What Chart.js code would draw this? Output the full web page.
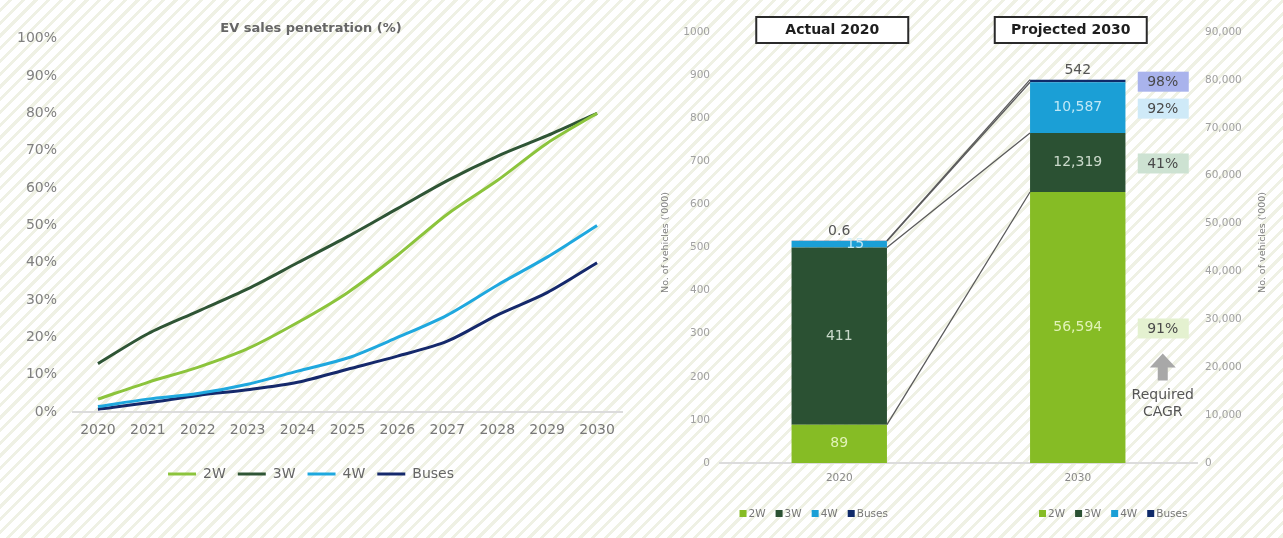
<!DOCTYPE html>
<html lang="en">
<head>
<meta charset="UTF-8">
<title>EV sales penetration</title>
<script src="https://cdn.jsdelivr.net/npm/chart.js"></script>
<style>
    html, body { margin: 0; padding: 0; }
    body {
        width: 1283px; height: 538px; overflow: hidden; position: relative;
        background: repeating-linear-gradient(135deg, #ffffff 0px, #ffffff 6px, #eff1e4 6px, #eff1e4 9px);
    }
    .painel { position: absolute; top: 0; height: 538px; }
    #esquerda { left: 0; width: 640px; }
    #direita { left: 640px; width: 643px; }
</style>
</head>
<body>
    <div class="painel" id="esquerda"><canvas id="ChartPenetracao" width="640" height="538"></canvas></div>
    <div class="painel" id="direita"><canvas id="ChartVeiculos" width="643" height="538"></canvas></div>

<script>
    // --- dados ---
    const anos = ['2020', '2021', '2022', '2023', '2024', '2025', '2026', '2027', '2028', '2029', '2030'];
    const pen2W = [3.5, 8, 12, 17, 24, 32, 42, 53, 62, 72, 80];
    const pen3W = [13, 21, 27, 33, 40, 47, 54.5, 62, 68.5, 74, 80];
    const pen4W = [1.5, 3.5, 5, 7.5, 11, 14.5, 20, 26, 34, 41.5, 50];
    const penBuses = [0.8, 2.5, 4.5, 6, 8, 11.5, 15, 19, 26, 32, 40];
    const ticksPercent = [0, 10, 20, 30, 40, 50, 60, 70, 80, 90, 100];

    const series = ['2W', '3W', '4W', 'Buses'];
    const anosBarras = ['2020', '2030'];
    const veiculos2020 = [89, 411, 15, 0.6];          // '000
    const veiculos2030 = [56594, 12319, 10587, 542];  // '000
    const cagr = ['91%', '41%', '92%', '98%'];
    const ticksEsq = [0, 100, 200, 300, 400, 500, 600, 700, 800, 900, 1000];
    const ticksDir = [0, 10000, 20000, 30000, 40000, 50000, 60000, 70000, 80000, 90000];
    const titulosBarras = ['Actual 2020', 'Projected 2030'];

    const fonte = '"DejaVu Sans", Verdana, sans-serif';
    Chart.defaults.font.family = fonte;

    const coresLinhas = ['#8cc43c', '#2f5535', '#1fa8de', '#15296b'];
    const coresBarras = ['#86bc25', '#2b5133', '#1b9fd6', '#0f2a69'];
    const coresTexto = ['rgba(235,248,200,0.9)', 'rgba(220,232,220,0.9)', 'rgba(210,240,250,0.9)', '#555'];
    const coresCagr = ['#e4f1d0', '#cde2d2', '#cfeaf8', '#a9b3ec'];

    // --- grafico de linhas ---
    new Chart(document.getElementById('ChartPenetracao'), {
        type: 'line',
        data: {
            labels: anos,
            datasets: [pen2W, pen3W, pen4W, penBuses].map((d, i) => ({
                label: series[i],
                data: d,
                borderColor: coresLinhas[i],
                backgroundColor: coresLinhas[i],
                borderWidth: 3,
                pointRadius: 0,
                pointStyle: 'line',
                tension: 0.3
            }))
        },
        options: {
            responsive: false,
            animation: false,
            layout: { padding: { left: 0, right: 18, top: 0, bottom: 47 } },
            plugins: {
                title: {
                    display: true,
                    text: 'EV sales penetration (%)',
                    color: '#666',
                    font: { size: 13, weight: 'bold' },
                    padding: { top: 21, bottom: 2 }
                },
                legend: {
                    position: 'bottom',
                    labels: { usePointStyle: true, pointStyle: 'line', pointStyleWidth: 28, color: '#666', font: { size: 14 }, padding: 12 }
                },
                tooltip: { enabled: false }
            },
            scales: {
                x: {
                    offset: true,
                    grid: { display: false, drawTicks: false },
                    border: { display: true, color: '#dcdcdc', width: 2 },
                    ticks: { color: '#777', font: { size: 14 }, padding: 10 },
                    afterFit: s => { s.height += 6; }
                },
                y: {
                    min: 0, max: 100,
                    afterBuildTicks: s => { s.ticks = ticksPercent.map(v => ({ value: v })); },
                    afterFit: s => { s.width = 73; },
                    grid: { display: false, drawTicks: false },
                    border: { display: false },
                    ticks: { color: '#808080', font: { size: 14 }, padding: 16, callback: v => v + '%' }
                }
            }
        }
    });

    // --- grafico de barras ---
    const anotacoes = {
        id: 'anotacoes',
        afterDatasetsDraw(chart) {
            const ctx = chart.ctx;
            const ca = chart.chartArea;
            const m20 = series.map((s, i) => chart.getDatasetMeta(i).data[0].getProps(['x', 'y', 'base', 'width'], true));
            const m30 = series.map((s, i) => chart.getDatasetMeta(i + 4).data[1].getProps(['x', 'y', 'base', 'width'], true));
            ctx.save();

            // linhas ligando as barras
            ctx.strokeStyle = '#5a5a5a';
            ctx.lineWidth = 1.3;
            series.forEach((s, i) => {
                ctx.beginPath();
                ctx.moveTo(m20[i].x + m20[i].width / 2, m20[i].y);
                ctx.lineTo(m30[i].x - m30[i].width / 2, m30[i].y);
                ctx.stroke();
            });

            // valores
            ctx.font = '14px ' + fonte;
            ctx.textAlign = 'center';
            ctx.textBaseline = 'middle';
            [[m20, veiculos2020], [m30, veiculos2030]].forEach(([m, vals]) => {
                m.forEach((e, i) => {
                    ctx.fillStyle = coresTexto[i];
                    const y = i === 3 ? e.y - 9 : (e.y + e.base) / 2;
                    const x = (vals === veiculos2020 && i === 2) ? e.x + 16 : e.x;
                    ctx.fillText(vals[i].toLocaleString('en-US'), x, y);
                });
            });

            // caixas de titulo
            ctx.font = 'bold 14px ' + fonte;
            [m20[0].x - 7, m30[0].x - 7].forEach((cx, k) => {
                ctx.fillStyle = '#fff';
                ctx.fillRect(cx - 76, 17, 152, 26);
                ctx.strokeStyle = '#2a2a2a';
                ctx.lineWidth = 2;
                ctx.strokeRect(cx - 76, 17, 152, 26);
                ctx.fillStyle = '#1e1e1e';
                ctx.fillText(titulosBarras[k], cx, 30.5);
            });

            // CAGR
            const cx = m30[0].x + 85;
            ctx.font = '14px ' + fonte;
            m30.forEach((e, i) => {
                const y = i === 3 ? e.y + 2 : (e.y + e.base) / 2 + 1;
                ctx.fillStyle = coresCagr[i];
                ctx.fillRect(cx - 25, y - 10, 51, 20);
                ctx.fillStyle = '#4a4a4a';
                ctx.fillText(cagr[i], cx, y + 1);
            });

            // seta
            const yb = (m30[0].y + m30[0].base) / 2 + 1;
            const topo = yb + 25;
            ctx.fillStyle = '#a8a8a8';
            ctx.beginPath();
            ctx.moveTo(cx, topo);
            ctx.lineTo(cx + 13, topo + 14);
            ctx.lineTo(cx + 5, topo + 14);
            ctx.lineTo(cx + 5, topo + 27);
            ctx.lineTo(cx - 5, topo + 27);
            ctx.lineTo(cx - 5, topo + 14);
            ctx.lineTo(cx - 13, topo + 14);
            ctx.closePath();
            ctx.fill();
            ctx.fillStyle = '#555';
            ctx.fillText('Required', cx, topo + 42);
            ctx.fillText('CAGR', cx, topo + 59);

            // titulos dos eixos
            ctx.font = '9.5px ' + fonte;
            ctx.fillStyle = '#808080';
            [26, 623].forEach(x => {
                ctx.save();
                ctx.translate(x, (ca.top + ca.bottom) / 2 - 5);
                ctx.rotate(-Math.PI / 2);
                ctx.fillText("No. of vehicles ('000)", 0, 0);
                ctx.restore();
            });

            // legendas
            ctx.font = '10.5px ' + fonte;
            ctx.textAlign = 'left';
            [m20[0].x - 25, m30[0].x + 36].forEach(centro => {
                const larguras = series.map(s => 10 + ctx.measureText(s).width);
                const total = larguras.reduce((a, b) => a + b, 0) + 9 * (series.length - 1);
                let x = centro - total / 2;
                series.forEach((s, i) => {
                    ctx.fillStyle = coresBarras[i];
                    ctx.fillRect(x, 510, 7, 7);
                    ctx.fillStyle = '#777';
                    ctx.fillText(s, x + 9, 514);
                    x += larguras[i] + 9;
                });
            });
            ctx.restore();
        }
    };

    new Chart(document.getElementById('ChartVeiculos'), {
        type: 'bar',
        data: {
            labels: anosBarras,
            datasets: series.map((s, i) => ({
                label: s, data: [veiculos2020[i], null], yAxisID: 'y',
                backgroundColor: coresBarras[i], stack: 'v'
            })).concat(series.map((s, i) => ({
                label: s, data: [null, veiculos2030[i]], yAxisID: 'y1',
                backgroundColor: coresBarras[i], stack: 'v'
            })))
        },
        options: {
            responsive: false,
            animation: false,
            barPercentage: 0.4,
            categoryPercentage: 1,
            layout: { padding: { left: 0, right: 0, top: 32, bottom: 0 } },
            plugins: { legend: { display: false }, tooltip: { enabled: false } },
            scales: {
                x: {
                    stacked: true,
                    grid: { display: false, drawTicks: false },
                    border: { display: true, color: '#dcdcdc', width: 2 },
                    ticks: { color: '#888', font: { size: 10.5 }, padding: 9 },
                    afterFit: s => { s.height = 75; }
                },
                y: {
                    stacked: true, position: 'left', min: 0, max: 1000,
                    afterBuildTicks: s => { s.ticks = ticksEsq.map(v => ({ value: v })); },
                    afterFit: s => { s.width = 80; },
                    grid: { display: false, drawTicks: false },
                    border: { display: false },
                    ticks: { color: '#a0a0a0', font: { size: 10.5 }, padding: 10, callback: v => String(v) }
                },
                y1: {
                    stacked: true, position: 'right', min: 0, max: 90000,
                    afterBuildTicks: s => { s.ticks = ticksDir.map(v => ({ value: v })); },
                    afterFit: s => { s.width = 86; },
                    grid: { display: false, drawTicks: false },
                    border: { display: false },
                    ticks: { color: '#a0a0a0', font: { size: 10.5 }, padding: 8, callback: v => v.toLocaleString('en-US') }
                }
            }
        },
        plugins: [anotacoes]
    });
</script>
</body>
</html>
